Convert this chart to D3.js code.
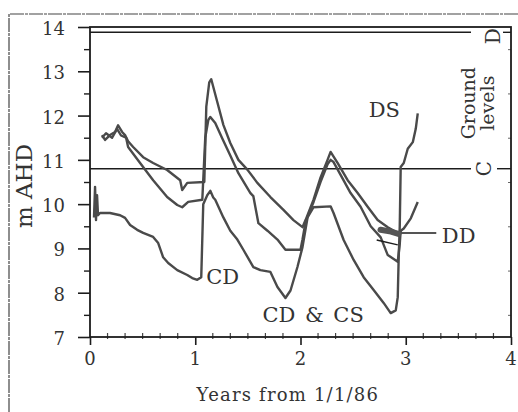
<!DOCTYPE html>
<html>
<head>
<meta charset="utf-8">
<script src="https://cdn.jsdelivr.net/npm/d3@7/dist/d3.min.js"></script>
<style>
	body { margin: 0; background: #fff; }
	svg { display: block; }
</style>
</head>
<body>
<div id="chart"></div>
<script>
// [years from 1/1/86, water level m AHD]
const upperTrace = [
	[0.114, 11.56], [0.143, 11.45], [0.19, 11.56], [0.238, 11.63], [0.267, 11.78],
	[0.305, 11.63], [0.333, 11.56], [0.362, 11.42], [0.41, 11.29], [0.505, 11.06],
	[0.6, 10.93], [0.733, 10.77], [0.857, 10.54], [0.876, 10.32], [0.924, 10.48],
	[1.086, 10.5], [1.105, 12.2], [1.133, 12.75], [1.152, 12.82], [1.21, 12.3],
	[1.267, 11.79], [1.333, 11.38], [1.41, 11.0], [1.495, 10.78], [1.59, 10.48],
	[1.714, 10.16], [1.838, 9.87], [1.933, 9.64], [2.019, 9.48], [2.048, 9.64],
	[2.124, 10.1], [2.19, 10.6], [2.257, 11.0], [2.286, 11.18], [2.352, 10.93],
	[2.448, 10.54], [2.543, 10.25], [2.638, 9.94], [2.733, 9.64], [2.829, 9.48],
	[2.924, 9.35], [2.981, 9.45], [3.048, 9.68], [3.114, 10.05],
];
const middleTrace = [
	[0.114, 11.5], [0.152, 11.6], [0.21, 11.5], [0.257, 11.7], [0.295, 11.55],
	[0.343, 11.5], [0.362, 11.29], [0.476, 10.93], [0.6, 10.54], [0.733, 10.16],
	[0.829, 9.98], [0.876, 9.93], [0.933, 10.05], [1.067, 10.1], [1.095, 11.5],
	[1.124, 11.9], [1.143, 11.97], [1.19, 11.83], [1.257, 11.48], [1.333, 11.1],
	[1.41, 10.7], [1.524, 10.25], [1.552, 10.18], [1.6, 9.57], [1.686, 9.4],
	[1.781, 9.2], [1.857, 8.97], [2.0, 8.97], [2.019, 9.2], [2.048, 9.6],
	[2.124, 10.05], [2.19, 10.5], [2.257, 10.9], [2.286, 11.0], [2.314, 10.95],
	[2.381, 10.66], [2.476, 10.25], [2.571, 9.94], [2.667, 9.5], [2.762, 9.25],
	[2.829, 8.85], [2.924, 8.7], [2.943, 9.1], [2.952, 9.4],
];
const lowerTrace = [
	[0.038, 9.7], [0.048, 10.39], [0.057, 9.64], [0.067, 10.2], [0.076, 9.75],
	[0.095, 9.8], [0.19, 9.8], [0.286, 9.75], [0.333, 9.69], [0.381, 9.53],
	[0.448, 9.42], [0.505, 9.35], [0.6, 9.26], [0.648, 9.12], [0.695, 8.8],
	[0.743, 8.67], [0.829, 8.51], [0.924, 8.4], [0.971, 8.33], [1.019, 8.29],
	[1.057, 8.35], [1.076, 10.0], [1.114, 10.2], [1.143, 10.3], [1.171, 10.15],
	[1.19, 10.1], [1.267, 9.7], [1.333, 9.4], [1.4, 9.2], [1.457, 8.97],
	[1.552, 8.58], [1.619, 8.51], [1.714, 8.47], [1.781, 8.13], [1.857, 7.88],
	[1.905, 8.05], [1.971, 8.58], [2.019, 9.03], [2.067, 9.7], [2.124, 9.93],
	[2.286, 9.95], [2.314, 9.8], [2.41, 9.19], [2.505, 8.74], [2.6, 8.35],
	[2.695, 8.06], [2.79, 7.77], [2.857, 7.54], [2.905, 7.6], [2.924, 7.9],
	[2.933, 8.8], [2.943, 9.5], [2.952, 10.84], [2.981, 10.93], [3.019, 11.25],
	[3.067, 11.4], [3.095, 11.7], [3.114, 12.05],
];
const ddCluster = [[2.76, 9.42], [2.86, 9.38], [2.93, 9.33]];
const ddArrow = [[2.724, 9.19], [2.924, 9.08]];
const ddPointer = [[2.96, 9.35], [3.29, 9.35]];

const groundLevels = [
	{ id: "D", level: 13.88 },
	{ id: "C", level: 10.8 },
];
const traceLabels = [
	{ text: "DS", t: 2.648, v: 11.97 },
	{ text: "DD", t: 3.343, v: 9.12 },
	{ text: "CD", t: 1.105, v: 8.2 },
	{ text: "CD & CS", t: 1.638, v: 7.34 },
];
const yTicks = [7, 8, 9, 10, 11, 12, 13, 14];
const yMinorTicks = [7.5, 8.5, 9.5, 10.5, 11.5, 12.5, 13.5];
const xTicks = [0, 1, 2, 3, 4];
const xMinorTicks = d3.range(1, 24).filter((i) => i % 6 !== 0).map((i) => i / 6);

const width = 518;
const height = 412;
const margin = { top: 27, right: 7, bottom: 75, left: 90 };
const innerWidth = width - margin.left - margin.right;
const innerHeight = height - margin.top - margin.bottom;
const serif = "'DejaVu Serif', 'Liberation Serif', serif";
const ink = "#1c1c1c";
const textInk = "#333";

const x = d3.scaleLinear().domain([0, 4]).range([0, innerWidth]);
const y = d3.scaleLinear().domain([7, 14]).range([innerHeight, 0]);
const line = d3.line().x((d) => x(d[0])).y((d) => y(d[1]));

const svg = d3
	.select("#chart")
	.append("svg")
	.attr("width", width)
	.attr("height", height)
	.attr("viewBox", `0 0 ${width} ${height}`);

// scanned page border (left and top only)
svg
	.append("path")
	.attr("d", `M9,${height} L9,14 L${width},14`)
	.attr("fill", "none")
	.attr("stroke", "#444")
	.attr("stroke-width", 1.2)
	.attr("stroke-dasharray", "14 1 3 1");

const root = svg
	.append("g")
	.attr("transform", `translate(${margin.left}, ${margin.top})`);

// y axis ticks
root
	.append("g")
	.call(d3.axisLeft(y).tickValues(yTicks).tickSize(12).tickFormat(""))
	.call((axis) => axis.select(".domain").remove())
	.call((axis) => axis.selectAll("text").remove())
	.call((axis) => axis.selectAll("line").attr("stroke", ink).attr("stroke-width", 1.6));

root
	.append("g")
	.call(d3.axisLeft(y).tickValues(yMinorTicks).tickSize(6).tickFormat(""))
	.call((axis) => axis.select(".domain").remove())
	.call((axis) => axis.selectAll("text").remove())
	.call((axis) => axis.selectAll("line").attr("stroke", ink).attr("stroke-width", 1.4));

// right frame minor ticks
root
	.append("g")
	.attr("transform", `translate(${innerWidth}, 0)`)
	.call(d3.axisLeft(y).tickValues(yMinorTicks).tickSize(3).tickFormat(""))
	.call((axis) => axis.select(".domain").remove())
	.call((axis) => axis.selectAll("text").remove())
	.call((axis) => axis.selectAll("line").attr("stroke", "#666"));

// x axis ticks
root
	.append("g")
	.attr("transform", `translate(0, ${innerHeight})`)
	.call(d3.axisBottom(x).tickValues(xTicks).tickSize(8).tickFormat(""))
	.call((axis) => axis.select(".domain").remove())
	.call((axis) => axis.selectAll("text").remove())
	.call((axis) => axis.selectAll("line").attr("stroke", ink).attr("stroke-width", 1.6));

root
	.append("g")
	.selectAll("line")
	.data(xMinorTicks)
	.join("line")
	.attr("x1", (d) => x(d))
	.attr("x2", (d) => x(d))
	.attr("y1", innerHeight - 4)
	.attr("y2", innerHeight + 2)
	.attr("stroke", "#444")
	.attr("stroke-width", 1.2);

// plot frame
root
	.append("rect")
	.attr("width", innerWidth)
	.attr("height", innerHeight)
	.attr("fill", "none")
	.attr("stroke", ink)
	.attr("stroke-width", 1.8);

// ground levels
const labelColumn = innerWidth - 26;
root
	.selectAll(".ground-line")
	.data(groundLevels)
	.join("line")
	.attr("class", "ground-line")
	.attr("x1", 0)
	.attr("x2", labelColumn - 14)
	.attr("y1", (d) => y(d.level))
	.attr("y2", (d) => y(d.level))
	.attr("stroke", ink)
	.attr("stroke-width", 1.6);

root
	.selectAll(".ground-tick")
	.data(groundLevels)
	.join("line")
	.attr("class", "ground-tick")
	.attr("x1", (d) => (d.id === "C" ? innerWidth - 14 : innerWidth - 8))
	.attr("x2", innerWidth)
	.attr("y1", (d) => y(d.level))
	.attr("y2", (d) => y(d.level))
	.attr("stroke", ink)
	.attr("stroke-width", 1.4);

// hydrograph traces
root
	.selectAll(".trace")
	.data([upperTrace, middleTrace, lowerTrace])
	.join("path")
	.attr("class", "trace")
	.attr("fill", "none")
	.attr("stroke", "#4a4a4a")
	.attr("stroke-width", 2.4)
	.attr("stroke-linejoin", "round")
	.attr("d", line);

root
	.append("path")
	.attr("d", line(ddCluster))
	.attr("fill", "none")
	.attr("stroke", "#555")
	.attr("stroke-width", 6)
	.attr("stroke-linecap", "round");

root
	.append("path")
	.attr("d", line(ddArrow))
	.attr("fill", "none")
	.attr("stroke", ink)
	.attr("stroke-width", 1.5);

root
	.append("path")
	.attr("d", line(ddPointer))
	.attr("fill", "none")
	.attr("stroke", ink)
	.attr("stroke-width", 1.6);

// all texts go in one layer on top
const labels = svg
	.append("g")
	.attr("font-family", serif)
	.attr("fill", textInk);

labels
	.selectAll(".y-label")
	.data(yTicks)
	.join("text")
	.attr("class", "y-label")
	.attr("x", margin.left - 25)
	.attr("y", (d) => margin.top + y(d) + 8)
	.attr("text-anchor", "end")
	.attr("font-size", 18)
	.text((d) => String(d));

labels
	.selectAll(".x-label")
	.data(xTicks)
	.join("text")
	.attr("class", "x-label")
	.attr("x", (d) => margin.left + x(d))
	.attr("y", margin.top + innerHeight + 28)
	.attr("text-anchor", "middle")
	.attr("font-size", 18)
	.text((d) => String(d));

labels
	.selectAll(".ground-id")
	.data(groundLevels)
	.join("text")
	.attr("class", "ground-id")
	.attr("transform", (d) => `translate(${margin.left + labelColumn + (d.id === "C" ? 6 : 15)}, ${margin.top + y(d.level) + (d.id === "C" ? 0 : 4)}) rotate(-90)`)
	.attr("text-anchor", "middle")
	.attr("font-size", 20)
	.text((d) => d.id);

const groundTitle = labels
	.append("text")
	.attr("transform", `translate(${margin.left + labelColumn - 10}, ${margin.top + y(12.28)}) rotate(-90)`)
	.attr("text-anchor", "middle")
	.attr("font-size", 19);
groundTitle.append("tspan").attr("x", 0).attr("dy", 0).text("Ground");
groundTitle.append("tspan").attr("x", 0).attr("dy", 19).text("levels");

labels
	.selectAll(".trace-label")
	.data(traceLabels)
	.join("text")
	.attr("class", "trace-label")
	.attr("x", (d) => margin.left + x(d.t))
	.attr("y", (d) => margin.top + y(d.v))
	.attr("font-size", 21)
	.attr("word-spacing", 3)
	.text((d) => d.text);

labels
	.append("text")
	.attr("x", margin.left + x(1.88))
	.attr("y", 401)
	.attr("text-anchor", "middle")
	.attr("font-size", 18)
	.attr("letter-spacing", 1.2)
	.text("Years from 1/1/86");

labels
	.append("text")
	.attr("transform", "translate(32, 186) rotate(-90)")
	.attr("text-anchor", "middle")
	.attr("font-size", 23)
	.text("m AHD");
</script>
</body>
</html>
